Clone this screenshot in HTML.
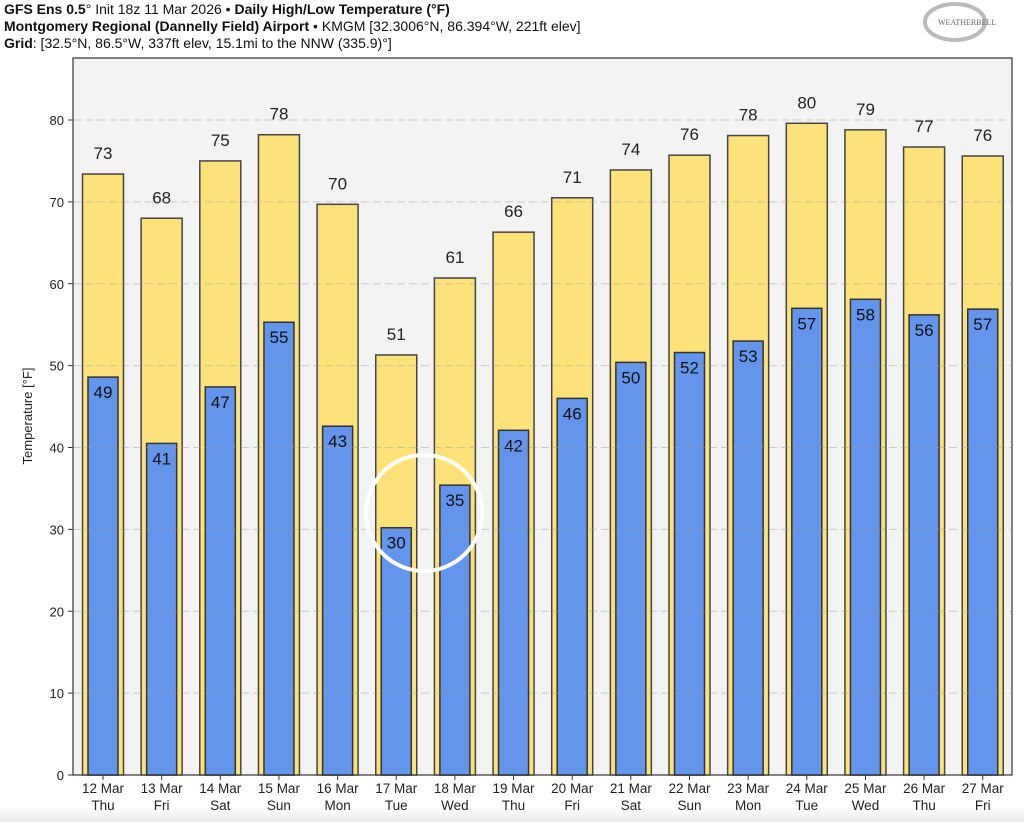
<!DOCTYPE html>
<html><head><meta charset="utf-8"><style>
body{margin:0;background:#fff;width:1024px;height:822px;overflow:hidden;font-family:"Liberation Sans",sans-serif}
svg{display:block}
</style></head><body>
<svg id="chart" width="1024" height="822">
<defs><linearGradient id="bg" x1="0" y1="0" x2="0" y2="1"><stop offset="0" stop-color="#fff"/><stop offset="1" stop-color="#e8e8e8"/></linearGradient></defs>
<rect x="0" y="808" width="1024" height="14" fill="url(#bg)"/>
<text x="4" y="14" font-size="14" fill="#111"><tspan font-weight="bold">GFS Ens 0.5</tspan>° Init 18z 11 Mar 2026 • <tspan font-weight="bold">Daily High/Low Temperature (°F)</tspan></text>
<text x="4" y="31" font-size="14" fill="#111"><tspan font-weight="bold">Montgomery Regional (Dannelly Field) Airport</tspan> • KMGM [32.3006°N, 86.394°W, 221ft elev]</text>
<text x="4" y="48" font-size="14" fill="#111"><tspan font-weight="bold">Grid</tspan>: [32.5°N, 86.5°W, 337ft elev, 15.1mi to the NNW (335.9)°]</text>
<g>
<ellipse cx="955" cy="22" rx="30" ry="18" fill="none" stroke="#bbb" stroke-width="4"/>
<text x="938" y="25" font-size="8" font-family="Liberation Serif,serif" fill="#666">WEATHERBELL</text>
</g>
<rect x="73" y="58" width="939" height="717" fill="#f3f3f3" stroke="#333" stroke-width="1.2"/>
<g id="bars"></g>
<g id="grid"></g>
<g id="axes"></g>
<circle cx="424" cy="513" r="58" fill="none" stroke="#fff" stroke-width="4"/>
<text transform="translate(32,416) rotate(-90)" text-anchor="middle" font-size="13" fill="#222">Temperature [°F]</text>
</svg>
<script>
const dates=["12 Mar","13 Mar","14 Mar","15 Mar","16 Mar","17 Mar","18 Mar","19 Mar","20 Mar","21 Mar","22 Mar","23 Mar","24 Mar","25 Mar","26 Mar","27 Mar"];
const days=["Thu","Fri","Sat","Sun","Mon","Tue","Wed","Thu","Fri","Sat","Sun","Mon","Tue","Wed","Thu","Fri"];
const highs=[73.4,68,75,78.2,69.7,51.3,60.7,66.3,70.5,73.9,75.7,78.1,79.6,78.8,76.7,75.6];
const lows=[48.6,40.5,47.4,55.3,42.6,30.2,35.4,42.1,46,50.4,51.6,53,57,58.1,56.2,56.9];
const yTicks=[0,10,20,30,40,50,60,70,80];
const NS="http://www.w3.org/2000/svg";
const y=v=>775-v*8.1875;
const x=i=>103+i*58.65;
function mk(tag,attrs,parent,txt){const e=document.createElementNS(NS,tag);for(const k in attrs)e.setAttribute(k,attrs[k]);if(txt!==undefined)e.textContent=txt;parent.appendChild(e);return e;}
const gb=document.getElementById('bars'),gg=document.getElementById('grid'),ga=document.getElementById('axes');
highs.forEach((h,i)=>{
 const r=mk('rect',{x:x(i)-20.5,y:y(h),width:41,height:775-y(h),fill:'#fde27a',stroke:'#444',"stroke-width":1.5},gb);
 
 
 const t=mk('text',{x:x(i),y:y(h)-15,"text-anchor":"middle","font-size":17,fill:'#222'},gb,Math.round(h));
 
 
});
lows.forEach((l,i)=>{
 const r=mk('rect',{x:x(i)-15,y:y(l),width:30,height:775-y(l),fill:'#6495ed',stroke:'#333',"stroke-width":1.5},gb);
 
 
 const t=mk('text',{x:x(i),y:y(l)+21,"text-anchor":"middle","font-size":17,fill:'#111'},gb,Math.round(l));
 
 
});
yTicks.forEach(v=>{
 if(v>0){const g=mk('line',{x1:73,x2:1012,y1:y(v),y2:y(v),stroke:'#999',"stroke-opacity":0.45,"stroke-dasharray":"8,4"},gg);
 
 }
 mk('line',{x1:68,x2:73,y1:y(v),y2:y(v),stroke:'#333'},ga);
 const t=mk('text',{x:64,y:y(v)+5,"text-anchor":"end","font-size":13,fill:'#222'},ga,v);
 
 
});
dates.forEach((d,i)=>{
 mk('line',{x1:x(i),x2:x(i),y1:775,y2:780,stroke:'#333'},ga);
 const t=mk('text',{x:x(i),y:793,"text-anchor":"middle","font-size":13.5,fill:'#222'},ga,d);
 
 
 const t2=mk('text',{x:x(i),y:810,"text-anchor":"middle","font-size":13.5,fill:'#222'},ga,days[i]);
 
 
});
</script>
</body></html>
